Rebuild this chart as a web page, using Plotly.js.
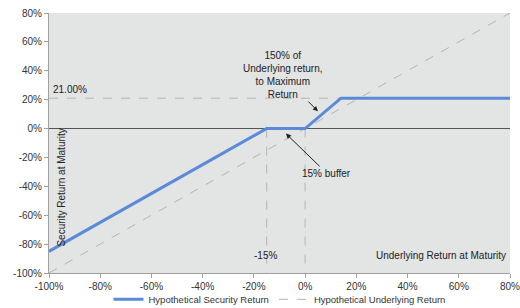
<!DOCTYPE html>
<html><head><meta charset="utf-8">
<script src="https://cdn.plot.ly/plotly-3.0.1.min.js"></script>
<style>html,body{margin:0;padding:0;background:#fff;overflow:hidden;}#c{width:520px;height:308px;}</style>
</head><body><div id="c"></div>
<script>
const secX = [-100, -15, 0, 14, 80];
const secY = [-85, 0, 0, 21, 21];
const undX = [-100, 80];
const undY = [-100, 80];
const capLevel = 21;
const bufferLevel = -15;
const tickVals = [-100, -80, -60, -40, -20, 0, 20, 40, 60, 80];
const tickText = ["-100%", "-80%", "-60%", "-40%", "-20%", "0%", "20%", "40%", "60%", "80%"];

const grey = "#b4b4b4";
const blue = "#5b8bd8";
const font = "Liberation Sans, Arial, sans-serif";

const traces = [
  {x: [-100, 80], y: [capLevel, capLevel], mode: "lines", line: {color: grey, width: 1, dash: "dash"}, showlegend: false, hoverinfo: "skip"},
  {x: [bufferLevel, bufferLevel], y: [0, -100], mode: "lines", line: {color: grey, width: 1, dash: "dash"}, showlegend: false, hoverinfo: "skip"},
  {x: [0, 0], y: [0, -100], mode: "lines", line: {color: grey, width: 1, dash: "dash"}, showlegend: false, hoverinfo: "skip"},
  {x: undX, y: undY, mode: "lines", name: "Hypothetical Underlying Return", line: {color: grey, width: 1, dash: "dash"}},
  {x: secX, y: secY, mode: "lines", name: "Hypothetical Security Return", line: {color: blue, width: 3}}
];

const layout = {
  width: 520, height: 308,
  margin: {l: 49, r: 10, t: 13, b: 35, autoexpand: false},
  paper_bgcolor: "#ffffff",
  plot_bgcolor: "#e3e4e4",
  font: {family: font, size: 10, color: "#222"},
  xaxis: {range: [-100, 80], tickvals: tickVals, ticktext: tickText, showgrid: false, zeroline: false, automargin: false,
          ticklabeloverflow: "allow",
          showline: true, linecolor: "#a0a0a0", linewidth: 1, ticks: "outside", ticklen: 4, tickcolor: "#a0a0a0",
          tickfont: {family: font, size: 10, color: "#333"}, fixedrange: true},
  yaxis: {range: [-100, 80], tickvals: tickVals, ticktext: tickText, showgrid: false, zeroline: true, zerolinecolor: "#555", zerolinewidth: 1, automargin: false,
          ticklabeloverflow: "allow",
          showline: true, linecolor: "#a0a0a0", linewidth: 1, ticks: "outside", ticklen: 4, tickcolor: "#a0a0a0",
          tickfont: {family: font, size: 10, color: "#333"}, fixedrange: true},
  showlegend: true,
  legend: {orientation: "h", x: 0.5, xanchor: "center", y: -0.157, yanchor: "bottom", traceorder: "reversed",
           font: {family: font, size: 9.5, color: "#333"}, bgcolor: "rgba(0,0,0,0)"},
  annotations: [
    {x: -100, y: capLevel, xref: "x", yref: "y", text: "21.00%", showarrow: false, xanchor: "left", yanchor: "bottom", xshift: 2, yshift: 1, font: {size: 10, color: "#222"}},
    {x: bufferLevel, y: -88, xref: "x", yref: "y", text: "-15%", showarrow: false, xanchor: "center", yanchor: "middle", xshift: -1, font: {size: 10, color: "#222"}},
    {x: 80, y: -88, xref: "x", yref: "y", text: "Underlying Return at Maturity", showarrow: false, xanchor: "right", yanchor: "middle", xshift: -2, font: {size: 10, color: "#222"}},
    {x: -95, y: -41, xref: "x", yref: "y", text: "Security Return at Maturity", showarrow: false, textangle: -90, xanchor: "center", yanchor: "middle", font: {size: 10, color: "#222"}},
    {x: 5, y: 12, xref: "x", yref: "y", ax: -9, ay: 37, axref: "x", ayref: "y", text: "150% of<br>Underlying return,<br>to Maximum<br>Return", showarrow: true, arrowhead: 2, arrowsize: 1, arrowwidth: 1, arrowcolor: "#222", standoff: 0, startstandoff: 0, font: {size: 10, color: "#222"}, align: "center"},
    {x: -7.5, y: -3.5, xref: "x", yref: "y", ax: 8.5, ay: -31, axref: "x", ayref: "y", text: "15% buffer", showarrow: true, arrowhead: 2, arrowsize: 1, arrowwidth: 1, arrowcolor: "#222", standoff: 0, font: {size: 10, color: "#222"}}
  ]
};

Plotly.newPlot("c", traces, layout, {staticPlot: true, displayModeBar: false});
</script>
</body></html>
